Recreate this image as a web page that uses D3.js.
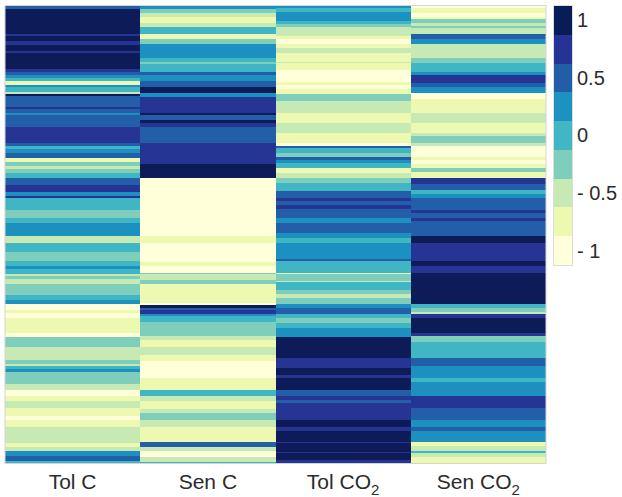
<!DOCTYPE html>
<html>
<head>
<meta charset="utf-8">
<script src="https://d3js.org/d3.v7.min.js"></script>
<style>
    body { margin: 0; background: #fff; }
    text { font-family: "Liberation Sans", Arial, sans-serif; fill: #2b2b2b; }
</style>
</head>
<body>
<script>
var samples = ["Tol C", "Sen C", "Tol CO2", "Sen CO2"];

// each column is a list of stripes: the gene row where it ends and its z-score
var rowCount = 457;

var tolCEnd = [3,28,30,35,39,45,47,63,66,69,72,75,79,81,86,88,90,101,103,107,109,121,137,140,143,147,152,156,160,163,167,172,179,186,190,192,204,212,217,230,237,246,255,260,263,268,270,273,278,289,294,298,304,307,312,327,331,341,354,358,360,363,366,378,384,390,395,402,410,414,421,437,441,445,450,455,457];
var tolCValue = [.5,1,.75,1,.75,1,.75,1,.75,.5,.25,0,-.75,.25,0,-.5,1,.5,.75,.5,.25,.5,.75,.5,0,.25,.5,-.75,-.25,-.5,-.25,0,.5,.75,.25,.75,0,-.25,0,.25,-.5,0,-.25,0,.25,0,-.5,-.25,-.5,-.25,0,.25,-1,-.75,-1,-.75,-1,-.25,-.5,-.25,-.5,0,.25,-.25,-.5,-1,-.75,-.5,-.75,-1,-.75,-.5,-.75,-.5,.25,.5,0];

var senCEnd = [3,7,11,17,21,28,33,38,52,56,58,66,69,75,81,87,91,107,109,114,117,121,137,158,172,230,237,256,260,267,268,274,278,297,299,302,304,308,310,316,330,334,341,349,355,372,384,390,395,403,407,414,421,436,441,445,451,456,457];
var senCValue = [.25,-.25,-.5,-.75,-.5,0,-.75,-.25,.25,0,-.25,0,.5,.25,.5,1,.25,.75,1,.5,1,.75,.5,.75,1,-1,-.75,-1,-.75,-1,-.25,-.5,-.25,-.75,-1,1,.5,.75,.25,0,-.25,-.5,-.75,-.5,-.75,-1,-.75,0,-.5,-.75,-.5,-.25,-.5,-.75,.5,-.5,-1,-.5,0];

var tolCO2End = [2,6,15,18,21,30,33,38,42,47,56,57,64,76,79,83,88,95,107,117,127,137,140,142,147,151,154,157,162,167,172,177,185,192,195,199,203,212,217,227,232,237,253,255,267,268,275,276,284,288,292,298,302,308,312,317,322,331,352,362,369,372,384,390,394,397,414,421,425,436,437,446,447,454,457];
var tolCO2Value = [.25,0,.25,0,-.25,-.5,-.75,-1,-.75,-.5,-.75,-.5,-.75,-1,-.75,-1,-.75,-.25,-.5,-.75,-.5,-.75,-1,.5,0,-.25,.5,.25,0,-.75,-.5,-.25,0,.5,.75,.5,.75,.5,.25,.5,.25,0,.25,.5,0,-.75,-.25,-.5,0,-.25,-.5,-.25,.25,.5,0,-.25,0,.25,1,.75,1,.75,1,.5,.75,.5,.75,1,.75,1,.75,1,.75,1,.75];

var senCO2End = [2,7,11,13,17,20,22,28,33,38,52,57,66,69,77,81,87,93,107,117,127,130,137,140,151,154,158,162,166,172,178,184,188,192,204,207,212,215,230,237,255,260,267,298,302,306,308,312,327,330,336,352,360,372,376,390,402,414,421,425,436,440,445,447,451,457];
var senCO2Value = [-1,-.75,-1,-.75,-.25,-.5,-.25,-.5,.5,.25,-.5,-.25,0,.25,.75,.5,.25,-1,-.75,-.5,-.75,-.5,-.25,-.5,-1,-.75,-1,-.75,-.25,-.75,.75,.5,0,.25,.5,.75,.5,.75,.5,1,.75,1,.75,1,0,-.25,-.5,.75,1,.75,-.25,0,.5,.25,0,.25,.75,.5,.25,.5,.25,-.75,-.5,0,-.5,-.75];

var legendTicks = [1, 0.5, 0, -0.5, -1];

var columnEnds = [tolCEnd, senCEnd, tolCO2End, senCO2End];
var columnValues = [tolCValue, senCValue, tolCO2Value, senCO2Value];

var width = 622,
    height = 497;

var svg = d3.select("body").append("svg")
    .attr("width", width)
    .attr("height", height)
    .style("display", "block");

var x = d3.scaleBand()
    .domain(samples)
    .range([5, 546]);

var y = d3.scaleLinear()
    .domain([0, rowCount])
    .range([6, 463]);

// 9 class YlGnBu, one class per quarter step
var color = d3.scaleQuantize()
    .domain([-1.125, 1.125])
    .range(d3.schemeYlGnBu[9]);

// the reference is a slightly soft raster, so blur the stripes a little
var defs = svg.append("defs");

defs.append("filter")
    .attr("id", "soft")
    .attr("filterUnits", "userSpaceOnUse")
    .attr("x", 0)
    .attr("y", 0)
    .attr("width", width)
    .attr("height", height)
    .append("feGaussianBlur")
    .attr("stdDeviation", "0.5 0.6");

defs.append("clipPath")
    .attr("id", "plot-clip")
    .append("rect")
    .attr("x", 5)
    .attr("y", 6)
    .attr("width", 541)
    .attr("height", 457);

// turn the stripe lists into cells
var cells = [];
samples.forEach(function (name, i) {
    columnEnds[i].forEach(function (end, j) {
        cells.push({
            sample: name,
            start: j === 0 ? 0 : columnEnds[i][j - 1],
            end: end,
            value: columnValues[i][j]
        });
    });
});

svg.append("g")
    .attr("clip-path", "url(#plot-clip)")
    .append("g")
    .attr("filter", "url(#soft)")
    .selectAll("rect")
    .data(cells)
    .enter()
    .append("rect")
    .attr("x", function (d) { return x(d.sample); })
    .attr("width", x.bandwidth())
    .attr("y", function (d) { return y(d.start); })
    .attr("height", function (d) { return y(d.end) - y(d.start); })
    .attr("fill", function (d) { return color(d.value); })
    .attr("shape-rendering", "crispEdges");

// thin grey frame round the heatmap
svg.append("rect")
    .attr("x", 5)
    .attr("y", 5.5)
    .attr("width", 541)
    .attr("height", 458)
    .attr("fill", "none")
    .attr("stroke", "#d4d4d4")
    .attr("stroke-width", 1);

// column labels, CO2 gets a real subscript
var labels = svg.append("g")
    .selectAll("text")
    .data(samples)
    .enter()
    .append("text")
    .attr("x", function (d) { return x(d) + x.bandwidth() / 2; })
    .attr("y", 489)
    .attr("text-anchor", "middle")
    .style("font-size", "21px");

labels.append("tspan")
    .text(function (d) { return d.replace("CO2", "CO"); });

labels.filter(function (d) { return d.indexOf("CO2") >= 0; })
    .append("tspan")
    .attr("dy", 6)
    .style("font-size", "15px")
    .text("2");

// legend
var legendY = d3.scaleLinear()
    .domain([1.125, -1.125])
    .range([6, 265]);

var legendBins = color.range().map(function (c) {
    var ext = color.invertExtent(c);
    return { color: c, low: ext[0], high: ext[1] };
});

svg.append("g")
    .selectAll("rect")
    .data(legendBins)
    .enter()
    .append("rect")
    .attr("x", 554)
    .attr("width", 18)
    .attr("y", function (d) { return legendY(d.high); })
    .attr("height", function (d) { return legendY(d.low) - legendY(d.high); })
    .attr("fill", function (d) { return d.color; })
    .attr("shape-rendering", "crispEdges");

svg.append("rect")
    .attr("x", 553.5)
    .attr("y", 5.5)
    .attr("width", 19)
    .attr("height", 260)
    .attr("fill", "none")
    .attr("stroke", "#dddddd");

var legendAxis = d3.axisRight(legendY)
    .tickValues(legendTicks)
    .tickSize(0)
    .tickPadding(5)
    .tickFormat(function (d) { return d < 0 ? "- " + Math.abs(d) : String(d); });

svg.append("g")
    .attr("transform", "translate(572,0)")
    .call(legendAxis)
    .call(function (g) { g.select(".domain").remove(); })
    .selectAll("text")
    .style("font-family", "'Liberation Sans', Arial, sans-serif")
    .style("font-size", "20px")
    .attr("fill", "#2b2b2b");
</script>
</body>
</html>
